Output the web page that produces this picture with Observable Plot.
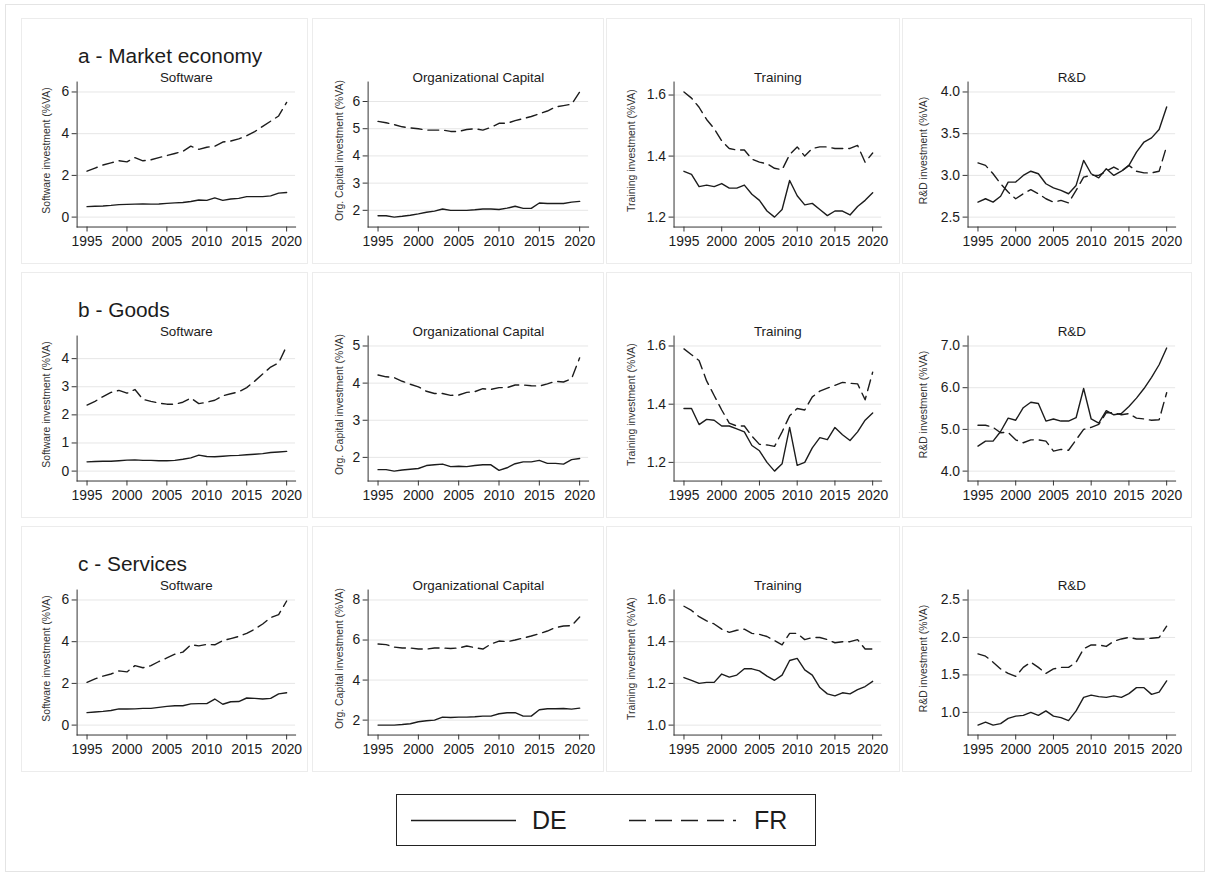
<!DOCTYPE html>
<html><head><meta charset="utf-8">
<script src="https://cdn.jsdelivr.net/npm/d3@7"></script>
<script src="https://cdn.jsdelivr.net/npm/@observablehq/plot@0.6"></script>
<style>
body{margin:0;background:#fff;font-family:"Liberation Sans",Arial,sans-serif;}
#fig{position:relative;width:1210px;height:878px;overflow:hidden;}
.outer{position:absolute;left:5px;top:4px;width:1200px;height:868px;border:1px solid #e4e4e4;box-sizing:border-box;}
.panel{position:absolute;border:1px solid #ececec;box-sizing:border-box;background:#fff;}
.panel svg{position:absolute;left:-1px;top:-1px;}
.legend{position:absolute;left:396px;top:794px;width:420px;height:52px;border:1px solid #222;box-sizing:border-box;background:#fff;}
</style></head><body><div id="fig"><div class="outer"></div></div>
<script>
// ---- categories & labels ----
const years = [1995,1996,1997,1998,1999,2000,2001,2002,2003,2004,2005,2006,2007,2008,2009,2010,2011,2012,2013,2014,2015,2016,2017,2018,2019,2020];
const xTicks = [1995,2000,2005,2010,2015,2020];
const sectors = ["a - Market economy","b - Goods","c - Services"];
const assets = ["Software","Organizational Capital","Training","R&D"];
const yLabels = ["Software investment (%VA)","Org. Capital investment (%VA)","Training investment (%VA)","R&D investment (%VA)"];
const countries = ["DE","FR"];

// ---- y tick labels per panel ----
const ticksMarket = [[0,2,4,6],[2,3,4,5,6],[1.2,1.4,1.6],[2.5,3.0,3.5,4.0]];
const ticksGoods = [[0,1,2,3,4],[2,3,4,5],[1.2,1.4,1.6],[4,5,6,7]];
const ticksServices = [[0,2,4,6],[2,4,6,8],[1.0,1.2,1.4,1.6],[1.0,1.5,2.0,2.5]];

// ---- series values ----
// a - Market economy
const marketSoftwareDE = [0.50,0.52,0.53,0.56,0.60,0.61,0.62,0.63,0.62,0.63,0.66,0.68,0.70,0.75,0.82,0.80,0.92,0.80,0.87,0.90,0.98,0.98,0.98,1.02,1.15,1.18];
const marketSoftwareFR = [2.20,2.35,2.50,2.60,2.70,2.65,2.85,2.70,2.75,2.85,2.95,3.05,3.15,3.40,3.25,3.35,3.40,3.60,3.65,3.75,3.90,4.10,4.35,4.60,4.85,5.50];
const marketOrgDE = [1.80,1.80,1.75,1.78,1.82,1.87,1.93,1.97,2.05,2.00,2.00,2.00,2.02,2.05,2.05,2.03,2.08,2.15,2.07,2.07,2.27,2.25,2.25,2.25,2.30,2.33];
const marketOrgFR = [5.27,5.22,5.15,5.07,5.03,5.00,4.95,4.95,4.95,4.90,4.90,4.97,5.00,4.95,5.05,5.20,5.20,5.30,5.37,5.45,5.55,5.65,5.80,5.85,5.90,6.35];
const marketTrainingDE = [1.350,1.340,1.300,1.305,1.300,1.310,1.295,1.295,1.305,1.275,1.255,1.220,1.200,1.225,1.320,1.270,1.240,1.245,1.225,1.205,1.220,1.220,1.207,1.235,1.255,1.280];
const marketTrainingFR = [1.610,1.590,1.560,1.520,1.490,1.450,1.425,1.420,1.420,1.390,1.380,1.375,1.360,1.355,1.405,1.430,1.400,1.425,1.430,1.430,1.425,1.425,1.425,1.435,1.380,1.410];
const marketRDDE = [2.68,2.72,2.68,2.75,2.92,2.92,3.00,3.05,3.02,2.90,2.85,2.82,2.78,2.88,3.18,3.02,2.97,3.08,3.00,3.05,3.12,3.28,3.40,3.45,3.55,3.82];
const marketRDFR = [3.15,3.12,3.02,2.90,2.80,2.72,2.78,2.83,2.78,2.72,2.68,2.70,2.67,2.82,2.98,3.00,3.00,3.05,3.10,3.05,3.12,3.05,3.03,3.03,3.05,3.35];
// b - Goods
const goodsSoftwareDE = [0.33,0.34,0.35,0.35,0.37,0.39,0.40,0.38,0.38,0.37,0.37,0.38,0.42,0.47,0.57,0.52,0.51,0.53,0.55,0.56,0.58,0.60,0.62,0.66,0.68,0.70];
const goodsSoftwareFR = [2.35,2.48,2.65,2.80,2.87,2.77,2.90,2.55,2.48,2.42,2.38,2.38,2.45,2.60,2.40,2.45,2.52,2.68,2.75,2.82,2.97,3.20,3.45,3.70,3.85,4.45];
const goodsOrgDE = [1.67,1.67,1.63,1.66,1.68,1.70,1.78,1.80,1.82,1.75,1.76,1.75,1.78,1.80,1.80,1.65,1.72,1.83,1.88,1.88,1.92,1.84,1.84,1.82,1.94,1.97];
const goodsOrgFR = [4.22,4.17,4.15,4.05,3.97,3.90,3.78,3.72,3.72,3.67,3.68,3.75,3.77,3.85,3.83,3.88,3.88,3.95,3.95,3.93,3.92,3.98,4.05,4.03,4.12,4.68];
const goodsTrainingDE = [1.385,1.385,1.330,1.348,1.345,1.325,1.325,1.315,1.305,1.258,1.240,1.200,1.170,1.195,1.320,1.190,1.200,1.250,1.285,1.278,1.320,1.295,1.275,1.305,1.345,1.370];
const goodsTrainingFR = [1.590,1.570,1.550,1.480,1.430,1.380,1.335,1.325,1.325,1.290,1.262,1.260,1.255,1.305,1.360,1.385,1.380,1.425,1.445,1.455,1.465,1.475,1.472,1.470,1.415,1.510];
const goodsRDDE = [4.60,4.72,4.72,4.95,5.27,5.22,5.52,5.65,5.62,5.20,5.25,5.20,5.20,5.28,5.98,5.25,5.15,5.45,5.35,5.38,5.55,5.75,5.98,6.25,6.55,6.95];
const goodsRDFR = [5.10,5.10,5.05,4.92,4.93,4.75,4.68,4.75,4.75,4.72,4.48,4.52,4.50,4.75,5.00,5.05,5.12,5.40,5.40,5.35,5.38,5.27,5.25,5.22,5.23,5.88];
// c - Services
const servicesSoftwareDE = [0.60,0.63,0.66,0.70,0.78,0.77,0.78,0.80,0.80,0.85,0.90,0.93,0.93,1.02,1.03,1.03,1.25,1.00,1.12,1.13,1.30,1.28,1.25,1.28,1.50,1.55];
const servicesSoftwareFR = [2.05,2.22,2.35,2.45,2.60,2.55,2.85,2.75,2.85,3.05,3.22,3.40,3.50,3.85,3.80,3.87,3.85,4.05,4.15,4.25,4.40,4.60,4.85,5.15,5.30,5.95];
const servicesOrgDE = [1.75,1.75,1.75,1.78,1.82,1.92,1.97,2.00,2.15,2.13,2.15,2.15,2.17,2.20,2.20,2.32,2.37,2.37,2.20,2.20,2.52,2.57,2.57,2.58,2.55,2.60];
const servicesOrgFR = [5.80,5.77,5.65,5.60,5.60,5.55,5.55,5.60,5.60,5.58,5.60,5.70,5.62,5.55,5.80,5.95,5.92,6.00,6.10,6.20,6.32,6.45,6.62,6.70,6.72,7.15];
const servicesTrainingDE = [1.228,1.215,1.200,1.205,1.205,1.245,1.230,1.240,1.270,1.270,1.260,1.235,1.215,1.240,1.310,1.320,1.265,1.240,1.180,1.150,1.140,1.155,1.150,1.170,1.185,1.210];
const servicesTrainingFR = [1.570,1.550,1.520,1.500,1.485,1.460,1.445,1.455,1.460,1.440,1.435,1.425,1.405,1.385,1.440,1.440,1.410,1.420,1.420,1.410,1.395,1.400,1.400,1.410,1.365,1.365];
const servicesRDDE = [0.83,0.87,0.83,0.85,0.92,0.95,0.96,1.00,0.96,1.02,0.95,0.93,0.89,1.02,1.20,1.23,1.21,1.20,1.22,1.20,1.25,1.33,1.33,1.24,1.27,1.42];
const servicesRDFR = [1.78,1.75,1.67,1.58,1.52,1.48,1.60,1.67,1.60,1.52,1.58,1.60,1.60,1.67,1.85,1.90,1.90,1.88,1.95,1.98,2.00,1.98,1.98,1.99,2.00,2.15];

// ---- assemble panels ----
const panelSeries = [
  [[marketSoftwareDE,marketSoftwareFR],[marketOrgDE,marketOrgFR],[marketTrainingDE,marketTrainingFR],[marketRDDE,marketRDFR]],
  [[goodsSoftwareDE,goodsSoftwareFR],[goodsOrgDE,goodsOrgFR],[goodsTrainingDE,goodsTrainingFR],[goodsRDDE,goodsRDFR]],
  [[servicesSoftwareDE,servicesSoftwareFR],[servicesOrgDE,servicesOrgFR],[servicesTrainingDE,servicesTrainingFR],[servicesRDDE,servicesRDFR]]
];
const panelTicks = [ticksMarket, ticksGoods, ticksServices];

// ---- layout ----
const colLeft = [21, 312, 606, 902];
const colWidth = [287, 292, 294, 290];
const colMarginLeft = [56, 56, 68, 66];
const colMarginRight = [11, 14, 17, 15];
const colLabelDx = [-31, -29, -43, -45];
const rowTop = [18, 272, 526];
const panelH = 246;
const FONT = '"Liberation Sans", Arial, sans-serif';
const INK = "#1c1c1c";

const fig = document.getElementById("fig");

for (let r = 0; r < 3; r++) {
  for (let c = 0; c < 4; c++) {
    const [de, fr] = panelSeries[r][c];
    const rows = [];
    years.forEach((y, i) => rows.push({year: y, value: de[i], country: "DE"}));
    years.forEach((y, i) => rows.push({year: y, value: fr[i], country: "FR"}));
    const ticks = panelTicks[r][c];
    const all = rows.map(d => d.value).concat(ticks);
    const fmt = (c >= 2) ? d3.format(".1f") : d3.format("d");
    const marks = [
      Plot.gridY(ticks, {stroke: "#e6e6e6", strokeOpacity: 1, strokeWidth: 1}),
      Plot.axisY(ticks, {tickSize: 5, tickPadding: 3, tickFormat: fmt, label: null, fontSize: 14, fill: INK, stroke: "#333"}),
      Plot.axisX(xTicks, {tickSize: 5, tickPadding: 4, tickFormat: d => String(d), label: null, fontSize: 14, fill: INK, stroke: "#333"}),
      Plot.frame({anchor: "left", stroke: "#333", strokeWidth: 1}),
      Plot.frame({anchor: "bottom", stroke: "#333", strokeWidth: 1}),
      Plot.line(rows.filter(d => d.country === "DE"), {x: "year", y: "value", stroke: INK, strokeWidth: 1.4}),
      Plot.line(rows.filter(d => d.country === "FR"), {x: "year", y: "value", stroke: INK, strokeWidth: 1.4, strokeDasharray: "11,6"}),
      Plot.text([yLabels[c]], {frameAnchor: "left", text: d => d, rotate: -90, textAnchor: "middle", dx: colLabelDx[c], dy: -4, fontSize: 10.5, fill: "#333"}),
      Plot.text([assets[c]], {frameAnchor: "top", text: d => d, dy: -10, fontSize: 13.5, fill: INK})
    ];
    if (c === 0) {
      marks.push(Plot.text([sectors[r]], {frameAnchor: "top-left", text: d => d, textAnchor: "start", dy: -34, dx: 1, fontSize: 21, fill: INK}));
    }
    const svg = Plot.plot({
      width: colWidth[c],
      height: panelH,
      marginLeft: colMarginLeft[c],
      marginRight: colMarginRight[c],
      marginTop: 64,
      marginBottom: 36,
      x: {domain: [1995, 2020], insetLeft: 10, insetRight: 9},
      y: {domain: [d3.min(all), d3.max(all)], insetTop: 10, insetBottom: 10},
      style: {fontFamily: FONT, fontSize: "13px", color: INK, background: "transparent", overflow: "visible"},
      marks
    });
    const div = document.createElement("div");
    div.className = "panel";
    div.style.left = colLeft[c] + "px";
    div.style.top = rowTop[r] + "px";
    div.style.width = colWidth[c] + "px";
    div.style.height = panelH + "px";
    div.appendChild(svg);
    fig.appendChild(div);
  }
}

// ---- legend ----
const legend = document.createElement("div");
legend.className = "legend";
legend.innerHTML = `<svg width="418" height="50" style="font-family:${FONT}">
  <line x1="14" x2="119" y1="25.5" y2="25.5" stroke="${INK}" stroke-width="1.6"/>
  <text x="135" y="25" dominant-baseline="central" font-size="25" fill="${INK}">${countries[0]}</text>
  <line x1="232" x2="339" y1="25.5" y2="25.5" stroke="${INK}" stroke-width="1.6" stroke-dasharray="17,9"/>
  <text x="357" y="25" dominant-baseline="central" font-size="25" fill="${INK}">${countries[1]}</text>
</svg>`;
fig.appendChild(legend);
</script></body></html>
